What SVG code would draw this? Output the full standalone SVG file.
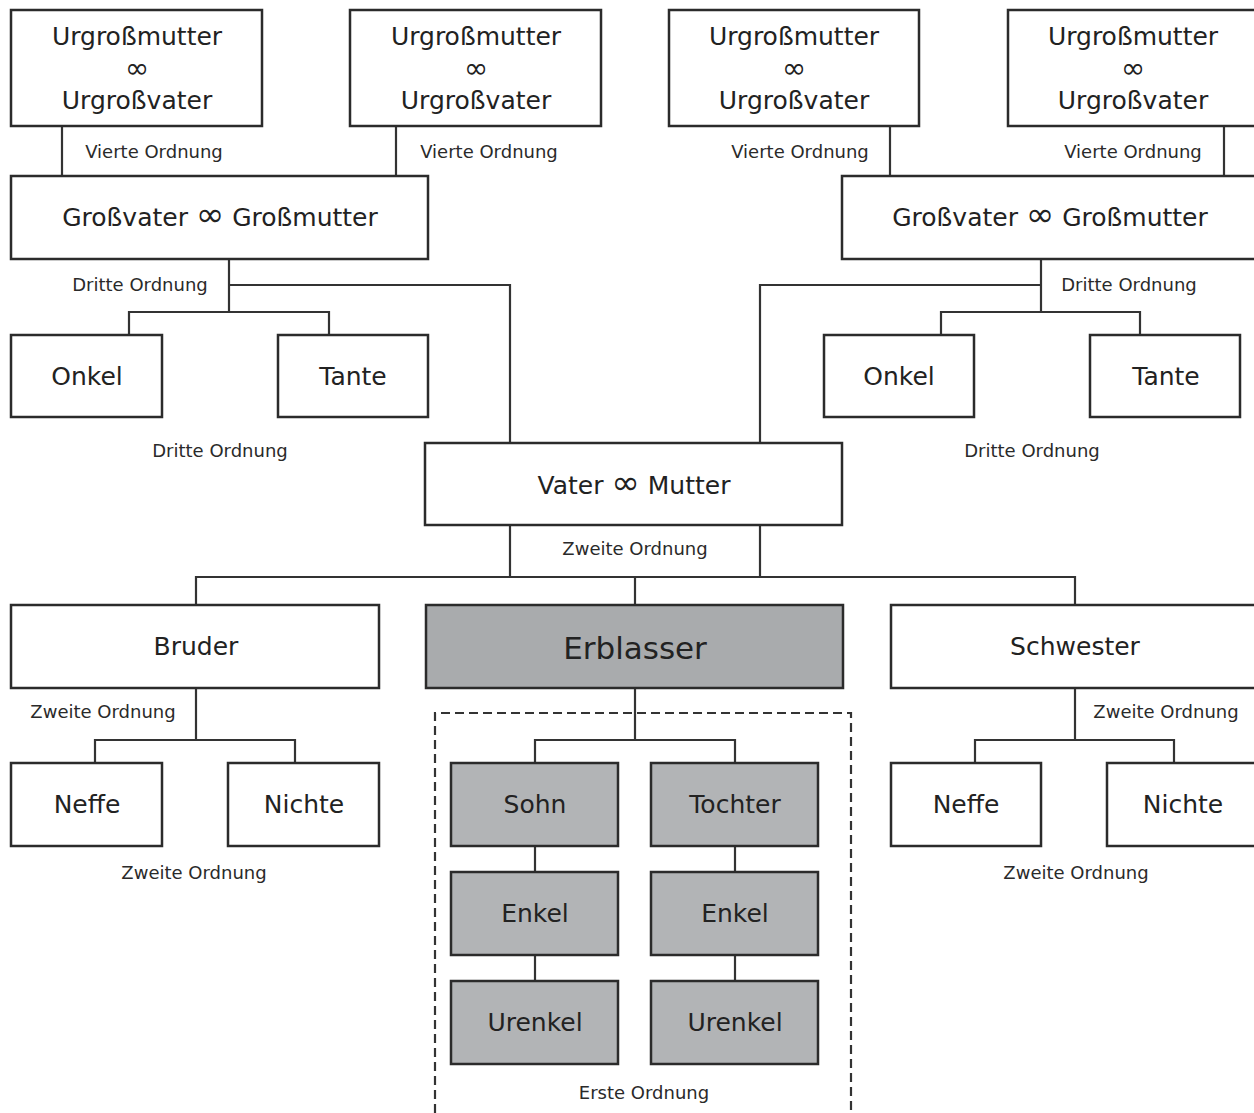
<svg xmlns="http://www.w3.org/2000/svg" width="1254" height="1113" viewBox="0 0 1254 1113">
<style>
.b{fill:#fff;stroke:#2b2b2b;stroke-width:2.5}
.g{fill:#b2b4b6;stroke:#2b2b2b;stroke-width:2.5}
.e{fill:#a9abad;stroke:#2b2b2b;stroke-width:2.5}
.t{font-family:"DejaVu Sans","Liberation Sans",sans-serif;font-size:25px;fill:#222;text-anchor:middle}
.big{font-size:31px}
.inf{font-size:34px}
.inf2{font-size:29px}
.s{font-family:"DejaVu Sans","Liberation Sans",sans-serif;font-size:18px;fill:#2a2a2a;text-anchor:middle}
.c{fill:none;stroke:#333;stroke-width:2.2}
.d{fill:none;stroke:#333;stroke-width:2.2;stroke-dasharray:9 5}
</style>
<rect width="1254" height="1113" fill="#fff"/>
<g id="connectors">
<path class="c" d="M62,126V176M396,126V176M890,126V176M1224,126V176"/>
<path class="c" d="M229,259V312M129,335V312H329V335M229,285H510V443"/>
<path class="c" d="M1041,259V312M941,335V312H1140V335M1041,285H760V443"/>
<path class="c" d="M510,525V577M760,525V577M196,605V577H1075V605M635,577V605"/>
<path class="c" d="M196,688V740M95,763V740H295V763"/>
<path class="c" d="M1075,688V740M975,763V740H1174V763"/>
<path class="c" d="M635,688V740M535,763V740H735V763"/>
<path class="c" d="M535,846V872M535,955V981M735,846V872M735,955V981"/>
<path class="d" d="M435,1113V713H851V1113"/>
</g>
<g id="labels">
<text class="s" x="154" y="158">Vierte Ordnung</text>
<text class="s" x="489" y="158">Vierte Ordnung</text>
<text class="s" x="800" y="158">Vierte Ordnung</text>
<text class="s" x="1133" y="158">Vierte Ordnung</text>
<text class="s" x="140" y="291">Dritte Ordnung</text>
<text class="s" x="1129" y="291">Dritte Ordnung</text>
<text class="s" x="220" y="457">Dritte Ordnung</text>
<text class="s" x="1032" y="457">Dritte Ordnung</text>
<text class="s" x="635" y="555">Zweite Ordnung</text>
<text class="s" x="103" y="718">Zweite Ordnung</text>
<text class="s" x="1166" y="718">Zweite Ordnung</text>
<text class="s" x="194" y="879">Zweite Ordnung</text>
<text class="s" x="1076" y="879">Zweite Ordnung</text>
<text class="s" x="644" y="1099">Erste Ordnung</text>
</g>
<g id="ug1"><rect class="b" x="11" y="10" width="251" height="116"/><text class="t" x="137" y="45">Urgroßmutter</text><text class="t inf2" x="137" y="78">∞</text><text class="t" x="137" y="109">Urgroßvater</text></g>
<g id="ug2"><rect class="b" x="350" y="10" width="251" height="116"/><text class="t" x="476" y="45">Urgroßmutter</text><text class="t inf2" x="476" y="78">∞</text><text class="t" x="476" y="109">Urgroßvater</text></g>
<g id="ug3"><rect class="b" x="669" y="10" width="250" height="116"/><text class="t" x="794" y="45">Urgroßmutter</text><text class="t inf2" x="794" y="78">∞</text><text class="t" x="794" y="109">Urgroßvater</text></g>
<g id="ug4"><rect class="b" x="1008" y="10" width="252" height="116"/><text class="t" x="1133" y="45">Urgroßmutter</text><text class="t inf2" x="1133" y="78">∞</text><text class="t" x="1133" y="109">Urgroßvater</text></g>
<g id="gv1"><rect class="b" x="11" y="176" width="417" height="83"/><text class="t" x="220" y="226">Großvater <tspan class="inf">∞</tspan> Großmutter</text></g>
<g id="gv2"><rect class="b" x="842" y="176" width="418" height="83"/><text class="t" x="1050" y="226">Großvater <tspan class="inf">∞</tspan> Großmutter</text></g>
<g id="onkel1"><rect class="b" x="11" y="335" width="151" height="82"/><text class="t" x="87" y="385">Onkel</text></g>
<g id="tante1"><rect class="b" x="278" y="335" width="150" height="82"/><text class="t" x="353" y="385">Tante</text></g>
<g id="onkel2"><rect class="b" x="824" y="335" width="150" height="82"/><text class="t" x="899" y="385">Onkel</text></g>
<g id="tante2"><rect class="b" x="1090" y="335" width="150" height="82"/><text class="t" x="1166" y="385">Tante</text></g>
<g id="eltern"><rect class="b" x="425" y="443" width="417" height="82"/><text class="t" x="634" y="494">Vater <tspan class="inf">∞</tspan> Mutter</text></g>
<g id="bruder"><rect class="b" x="11" y="605" width="368" height="83"/><text class="t" x="196" y="655">Bruder</text></g>
<g id="erblasser"><rect class="e" x="426" y="605" width="417" height="83"/><text class="t big" x="635" y="659">Erblasser</text></g>
<g id="schwester"><rect class="b" x="891" y="605" width="369" height="83"/><text class="t" x="1075" y="655">Schwester</text></g>
<g id="neffe1"><rect class="b" x="11" y="763" width="151" height="83"/><text class="t" x="87" y="813">Neffe</text></g>
<g id="nichte1"><rect class="b" x="228" y="763" width="151" height="83"/><text class="t" x="304" y="813">Nichte</text></g>
<g id="neffe2"><rect class="b" x="891" y="763" width="150" height="83"/><text class="t" x="966" y="813">Neffe</text></g>
<g id="nichte2"><rect class="b" x="1107" y="763" width="153" height="83"/><text class="t" x="1183" y="813">Nichte</text></g>
<g id="sohn"><rect class="g" x="451" y="763" width="167" height="83"/><text class="t" x="535" y="813">Sohn</text></g>
<g id="tochter"><rect class="g" x="651" y="763" width="167" height="83"/><text class="t" x="735" y="813">Tochter</text></g>
<g id="enkel1"><rect class="g" x="451" y="872" width="167" height="83"/><text class="t" x="535" y="922">Enkel</text></g>
<g id="enkel2"><rect class="g" x="651" y="872" width="167" height="83"/><text class="t" x="735" y="922">Enkel</text></g>
<g id="urenkel1"><rect class="g" x="451" y="981" width="167" height="83"/><text class="t" x="535" y="1031">Urenkel</text></g>
<g id="urenkel2"><rect class="g" x="651" y="981" width="167" height="83"/><text class="t" x="735" y="1031">Urenkel</text></g>
</svg>
